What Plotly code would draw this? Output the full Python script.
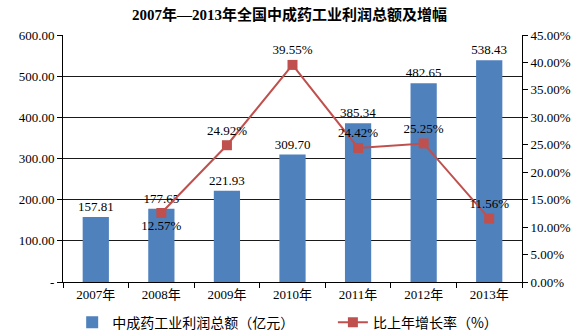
import plotly.graph_objects as go

years = ["2007年", "2008年", "2009年", "2010年", "2011年", "2012年", "2013年"]
profit = [157.81, 177.65, 221.93, 309.70, 385.34, 482.65, 538.43]
growth_years = ["2008年", "2009年", "2010年", "2011年", "2012年", "2013年"]
growth = [12.57, 24.92, 39.55, 24.42, 25.25, 11.56]
growth_pos = ["bottom center", "top center", "top center", "top center", "top center", "top center"]

left_ticks = [0, 100, 200, 300, 400, 500, 600]
right_ticks = [0, 5, 10, 15, 20, 25, 30, 35, 40, 45]

FONT = "Liberation Serif, Times New Roman, Noto Sans CJK SC"

fig = go.Figure()
fig.add_trace(go.Bar(
    x=years, y=profit, name="中成药工业利润总额（亿元）",
    marker=dict(color="#4F81BD", line=dict(width=0)),
    width=0.4,
    text=[f"{v:.2f}" for v in profit], textposition="outside",
    constraintext="none",
    textfont=dict(size=13, color="#000", family=FONT),
    cliponaxis=False, legend="legend",
))
fig.add_trace(go.Scatter(
    x=growth_years, y=growth, name="比上年增长率（%）", yaxis="y2",
    mode="lines+markers+text",
    line=dict(color="#C0504D", width=2),
    marker=dict(symbol="square", size=10, color="#C0504D"),
    text=[f"{v:.2f}%" for v in growth], textposition=growth_pos,
    textfont=dict(size=13, color="#000", family=FONT),
    cliponaxis=False, legend="legend2",
))

legend_common = dict(orientation="h", xanchor="left", y=-0.165, yanchor="middle",
                     font=dict(size=14, family="Noto Sans CJK SC"), itemwidth=30,
                     bgcolor="rgba(0,0,0,0)")

fig.update_layout(
    width=579, height=334,
    margin=dict(l=63, r=57, t=35, b=52, autoexpand=False),
    paper_bgcolor="white", plot_bgcolor="white",
    font=dict(family=FONT, size=12, color="#000"),
    title=dict(text="<b>2007年—2013年全国中成药工业利润总额及增幅</b>",
               x=0.5, xanchor="center", y=0.955, yanchor="middle",
               font=dict(size=15, family=FONT)),
    bargap=0.6,
    showlegend=True,
    legend=dict(x=0.02, **legend_common),
    legend2=dict(x=0.588, **legend_common),
    xaxis=dict(type="category", showline=True, linecolor="#000", linewidth=1,
               ticks="outside", tickson="boundaries", ticklen=5, tickcolor="#000",
               tickfont=dict(size=13), showgrid=False),
    yaxis=dict(range=[0, 600], tickvals=left_ticks,
               ticktext=["-" if v == 0 else f"{v:.2f}" for v in left_ticks],
               showgrid=True, gridcolor="#1a1a1a", gridwidth=1,
               showline=True, linecolor="#000", ticks="outside", ticklen=5, tickcolor="#000",
               tickfont=dict(size=13), zeroline=False),
    yaxis2=dict(range=[0, 45], overlaying="y", side="right", tickvals=right_ticks,
                ticktext=[f"{v:.2f}%" for v in right_ticks],
                showgrid=False, showline=True, linecolor="#000", ticks="outside",
                ticklen=5, tickcolor="#000", tickfont=dict(size=13), zeroline=False),
)

fig.write_html("out.html")
